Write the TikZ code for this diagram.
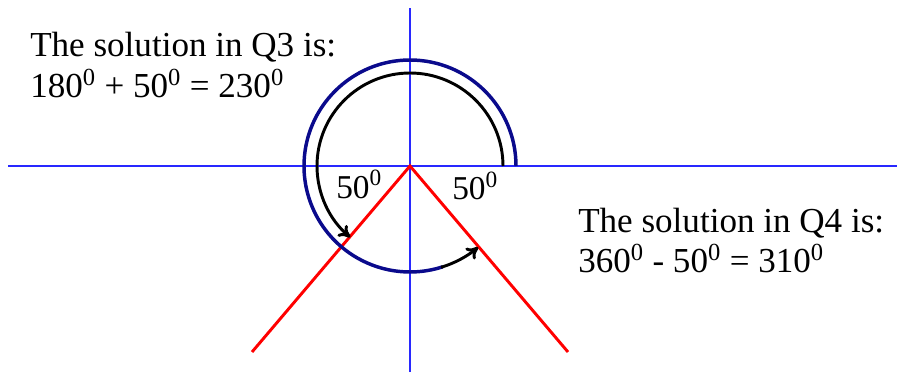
\documentclass[tikz,border=0pt]{standalone}
\usepackage{fontspec}
\setmainfont{Liberation Serif}
\usetikzlibrary{arrows.meta}
\definecolor{axisblue}{RGB}{40,40,255}
\definecolor{navy}{RGB}{10,10,140}
\definecolor{redline}{RGB}{255,0,0}
\tikzset{
  axis/.style={draw=axisblue,line width=1.1pt},
  ray/.style={draw=redline,line width=2.2pt},
  bluearc/.style={draw=navy,line width=2.6pt},
  blackarc/.style={draw=black,line width=2.2pt,-{To[length=8.5pt,width=11pt]}},
  bigtext/.style={font=\fontsize{26.3}{32}\selectfont,inner sep=0pt,anchor=base west},
  angtext/.style={font=\fontsize{25}{30}\selectfont,inner sep=0pt,anchor=base west},
}
\begin{document}
\begin{tikzpicture}[x=0.75pt,y=0.75pt]
\useasboundingbox (0,0) rectangle (897,372);
\coordinate (O) at (410,206);
\coordinate (xl) at (8,206);
\coordinate (xr) at (897,206);
\coordinate (yt) at (410,364);
\coordinate (yb) at (410,0);
\coordinate (rl) at (252,20);
\coordinate (rr) at (568,20);
% axes
\draw[axis] (xl) -- (xr);
\draw[axis] (yb) -- (yt);
% red rays
\draw[ray] (rl) -- (O) -- (rr);
% outer blue arc and its black tip
\draw[bluearc] ([shift={(0:106)}]O) arc[start angle=0,end angle=288,radius=106];
\draw[blackarc] ([shift={(287:106)}]O) arc[start angle=287,end angle=310,radius=106];
% inner black arc
\draw[blackarc] ([shift={(0:93)}]O) arc[start angle=0,end angle=230,radius=93];
% texts
\node[bigtext] (q3a) at (30,315) {The solution in Q3 is:};
\node[bigtext] (q3b) at (30,274) {180\textsuperscript{0} + 50\textsuperscript{0} = 230\textsuperscript{0}};
\node[bigtext] (q4a) at (578,140) {The solution in Q4 is:};
\node[bigtext] (q4b) at (578,99) {360\textsuperscript{0} - 50\textsuperscript{0} = 310\textsuperscript{0}};
\node[angtext] (a1) at (336,174) {50\textsuperscript{0}};
\node[angtext] (a2) at (452,172) {50\textsuperscript{0}};
\end{tikzpicture}
\end{document}
